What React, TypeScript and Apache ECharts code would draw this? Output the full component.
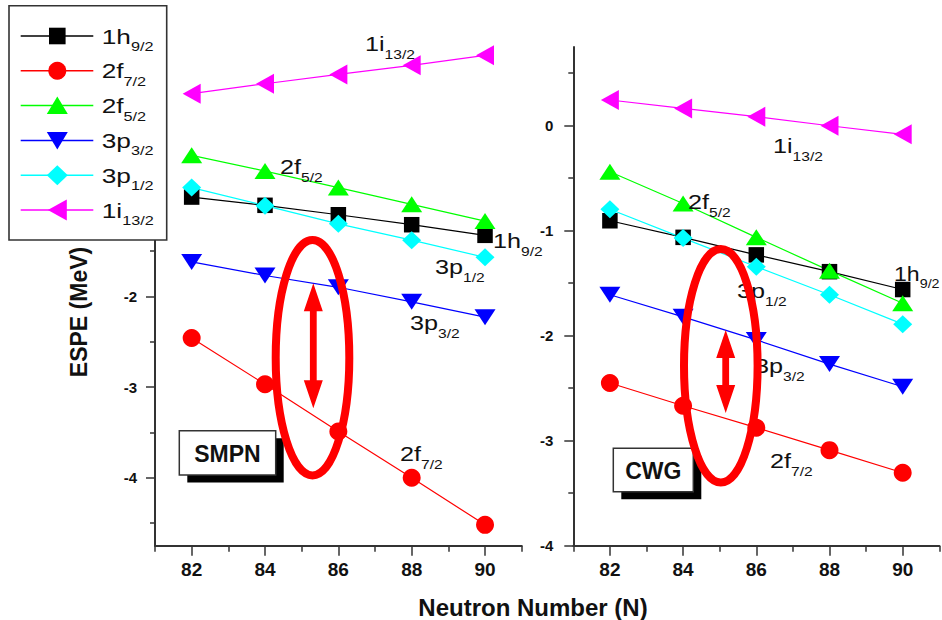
import React, { useEffect, useRef } from 'react';
import * as echarts from 'echarts';

// ---- data ----
const neutronN = [82, 84, 86, 88, 90];
const levelMain = ['1h', '2f', '2f', '3p', '3p', '1i'];
const levelSub = ['9/2', '7/2', '5/2', '3/2', '1/2', '13/2'];
const levelNames = levelMain.map((m, i) => m + levelSub[i]);

// SMPN (left panel)
const smpn1h9 = [-0.905, -0.996, -1.1, -1.21, -1.327];
const smpn2f7 = [-2.46, -2.97, -3.49, -4.0, -4.52];
const smpn2f5 = [-0.445, -0.618, -0.8, -0.985, -1.17];
const smpn3p3 = [-1.62, -1.77, -1.9, -2.06, -2.23];
const smpn3p1 = [-0.8, -1.0, -1.2, -1.38, -1.57];
const smpn1i13 = [0.235, 0.345, 0.448, 0.548, 0.658];

// CWG (right panel)
const cwg1h9 = [-0.905, -1.063, -1.23, -1.39, -1.56];
const cwg2f7 = [-2.45, -2.667, -2.876, -3.09, -3.305];
const cwg2f5 = [-0.438, -0.74, -1.063, -1.38, -1.69];
const cwg3p3 = [-1.61, -1.82, -2.04, -2.27, -2.486];
const cwg3p1 = [-0.796, -1.07, -1.343, -1.61, -1.89];
const cwg1i13 = [0.245, 0.165, 0.086, 0.0, -0.082];

const smpnValues = [smpn1h9, smpn2f7, smpn2f5, smpn3p3, smpn3p1, smpn1i13];
const cwgValues = [cwg1h9, cwg2f7, cwg2f5, cwg3p3, cwg3p1, cwg1i13];

const xRange = [81, 91];
const xMajorTicks = [82, 84, 86, 88, 90];
const xMinorTicks = [81, 83, 85, 87, 89, 91];
const leftYRange = [-4.75, 0.75];
const rightYRange = [-4, 0.75];
const yMajorTicks = [-4, -3, -2, -1, 0];
const leftYLabels = [-4, -3, -2]; // -1 and 0 sit under the legend box
const rightYLabels = [-4, -3, -2, -1, 0];
const leftYMinorTicks = [-4.5, -3.5, -2.5, -1.5, -0.5, 0.5];
const rightYMinorTicks = [-3.5, -2.5, -1.5, -0.5, 0.5];

const xAxisTitle = 'Neutron Number (N)';
const yAxisTitle = 'ESPE (MeV)';
const panelTags = ['SMPN', 'CWG'];

// ---- styles ----
const FONT = 'Liberation Sans, Arial, Helvetica, sans-serif';
const AXIS = '#333333';
const TEXT = '#111111';
const colors = ['#000000', '#ff0000', '#00ff00', '#0000ff', '#00ffff', '#ff00ff'];
const symbols = ['rect', 'circle', 'triangle', 'triangle', 'diamond', 'triangle'];
const symbolRotates = [0, 0, 0, 180, 0, 90];
const symbolSizes: any[] = [15.5, 18, [21, 16], [21, 16], [19, 18], [20, 18]];

function subText(x: number, y: number, main: string, sub: string, sx = 1.2, mSize = 21, sSize = 13) {
  return {
    type: 'text',
    x,
    y,
    scaleX: sx,
    z: 150,
    silent: true,
    style: {
      text: `{m|${main}}{s|${sub}}`,
      align: 'left',
      verticalAlign: 'middle',
      rich: {
        m: { fontSize: mSize, lineHeight: 34, fontFamily: FONT, fill: TEXT, color: TEXT },
        s: { fontSize: sSize, lineHeight: 10, verticalAlign: 'bottom', fontFamily: FONT, fill: TEXT, color: TEXT },
      },
    },
  };
}

function doubleArrow(cx: number, top: number, bottom: number) {
  const hl = 28, hw = 9.5, sw = 3.4;
  return {
    type: 'polygon',
    z: 120,
    silent: true,
    shape: {
      points: [
        [cx, top], [cx + hw, top + hl], [cx + sw, top + hl], [cx + sw, bottom - hl],
        [cx + hw, bottom - hl], [cx, bottom], [cx - hw, bottom - hl], [cx - sw, bottom - hl],
        [cx - sw, top + hl], [cx - hw, top + hl],
      ],
    },
    style: { fill: '#ff0000' },
  };
}

function tagBox(x: number, y: number, w: number, h: number, label: string) {
  return [
    { type: 'rect', z: 60, silent: true, shape: { x: x + 8, y: y + 7.5, width: w, height: h }, style: { fill: '#000' } },
    { type: 'rect', z: 61, silent: true, shape: { x, y, width: w, height: h }, style: { fill: '#fff', stroke: AXIS, lineWidth: 1.5 } },
    {
      type: 'text', z: 62, silent: true, x: x + w / 2, y: y + h / 2 + 1,
      style: { text: label, align: 'center', verticalAlign: 'middle', font: `bold 23px ${FONT}`, fill: TEXT },
    },
  ];
}

function legendSymbol(i: number, cx: number, cy: number) {
  const style = { fill: colors[i] };
  const base = { z: 202, silent: true, style };
  switch (i) {
    case 0:
      return { ...base, type: 'rect', shape: { x: cx - 8.3, y: cy - 8.3, width: 16.6, height: 16.6 } };
    case 1:
      return { ...base, type: 'circle', shape: { cx, cy, r: 9 } };
    case 2:
      return { ...base, type: 'polygon', shape: { points: [[cx, cy - 9], [cx + 10.5, cy + 8.5], [cx - 10.5, cy + 8.5]] } };
    case 3:
      return { ...base, type: 'polygon', shape: { points: [[cx, cy + 9], [cx + 10.5, cy - 8.5], [cx - 10.5, cy - 8.5]] } };
    case 4:
      return { ...base, type: 'polygon', shape: { points: [[cx, cy - 10], [cx + 10.5, cy], [cx, cy + 10], [cx - 10.5, cy]] } };
    default:
      return { ...base, type: 'polygon', shape: { points: [[cx - 9.5, cy], [cx + 9.5, cy - 10.5], [cx + 9.5, cy + 10.5]] } };
  }
}

function legendElements() {
  const els: any[] = [
    {
      type: 'rect', z: 200, silent: true,
      shape: { x: 9, y: 5.7, width: 157.7, height: 234.3 },
      style: { fill: '#ffffff', stroke: AXIS, lineWidth: 1.6 },
    },
  ];
  levelNames.forEach((_, i) => {
    const cy = 36 + 34.8 * i;
    els.push({
      type: 'line', z: 201, silent: true,
      shape: { x1: 20.7, y1: cy, x2: 93.3, y2: cy },
      style: { stroke: colors[i], lineWidth: 1.5 },
    });
    els.push(legendSymbol(i, 57.3, cy));
    const t: any = subText(101.7, cy, levelMain[i], levelSub[i], 1.25, 21, 13);
    t.z = 203;
    els.push(t);
  });
  return els;
}

function makeXAxis(g: number, minor: boolean) {
  return {
    type: 'value',
    gridIndex: g,
    position: 'bottom',
    min: xRange[0],
    max: xRange[1],
    axisLine: { show: !minor, onZero: false, lineStyle: { color: AXIS, width: 2 } },
    axisTick: {
      show: true,
      length: minor ? 6 : 10,
      lineStyle: { color: AXIS, width: 1.5 },
      customValues: minor ? xMinorTicks : xMajorTicks,
    },
    axisLabel: {
      show: !minor,
      customValues: xMajorTicks,
      margin: 14,
      fontSize: 19,
      fontWeight: 'bold',
      fontFamily: FONT,
      color: TEXT,
    },
    splitLine: { show: false },
  };
}

function makeYAxis(g: number, minor: boolean) {
  const range = g === 0 ? leftYRange : rightYRange;
  const minorTicks = g === 0 ? leftYMinorTicks : rightYMinorTicks;
  return {
    type: 'value',
    gridIndex: g,
    position: 'left',
    min: range[0],
    max: range[1],
    axisLine: { show: !minor, onZero: false, lineStyle: { color: AXIS, width: 2 } },
    axisTick: {
      show: true,
      length: minor ? 5 : 9,
      lineStyle: { color: AXIS, width: 1.5 },
      customValues: minor ? minorTicks : yMajorTicks,
    },
    axisLabel: {
      show: !minor,
      customValues: g === 0 ? leftYLabels : rightYLabels,
      margin: g === 0 ? 18 : 20,
      fontSize: 15,
      fontWeight: 'bold',
      fontFamily: FONT,
      color: TEXT,
    },
    splitLine: { show: false },
  };
}

export default function App() {
  const ref = useRef<HTMLDivElement>(null);
  useEffect(() => {
    if (!ref.current) return;
    const chart = echarts.init(ref.current, null, { renderer: 'svg' });

    const series: any[] = [];
    [smpnValues, cwgValues].forEach((vals, g) => {
      vals.forEach((arr, i) => {
        series.push({
          type: 'line',
          name: levelNames[i],
          xAxisIndex: g * 2,
          yAxisIndex: g * 2,
          data: neutronN.map((n, k) => [n, arr[k]]),
          symbol: symbols[i],
          symbolSize: symbolSizes[i],
          symbolRotate: symbolRotates[i],
          lineStyle: { color: colors[i], width: 1.2 },
          itemStyle: { color: colors[i] },
          silent: true,
        });
      });
    });

    const graphics: any[] = [
      // level labels - left panel
      subText(365, 44, '1i', '13/2'),
      subText(280, 166.5, '2f', '5/2'),
      subText(493, 240.5, '1h', '9/2'),
      subText(435, 267, '3p', '1/2'),
      subText(410, 323, '3p', '3/2'),
      subText(400, 453.5, '2f', '7/2'),
      // level labels - right panel
      subText(773, 145.5, '1i', '13/2'),
      subText(688, 201.5, '2f', '5/2'),
      subText(894, 273.5, '1h', '9/2', 1.1),
      subText(737, 291, '3p', '1/2'),
      subText(755, 366, '3p', '3/2'),
      subText(770, 460.5, '2f', '7/2'),
      ...tagBox(179.3, 430.7, 96.4, 44.3, panelTags[0]),
      ...tagBox(613.3, 448.3, 80, 43.4, panelTags[1]),
      {
        type: 'ellipse', z: 160, silent: true,
        shape: { cx: 312.5, cy: 357.7, rx: 36.8, ry: 117.7 },
        style: { fill: 'none', stroke: '#ff0000', lineWidth: 8 },
      },
      {
        type: 'ellipse', z: 160, silent: true,
        shape: { cx: 720.8, cy: 365.8, rx: 36.8, ry: 116.8 },
        style: { fill: 'none', stroke: '#ff0000', lineWidth: 8 },
      },
      doubleArrow(313.3, 283.3, 408.3),
      doubleArrow(725.7, 330, 413),
      {
        type: 'text', silent: true, x: 79, y: 312, rotation: Math.PI / 2, z: 150,
        style: { text: yAxisTitle, align: 'center', verticalAlign: 'middle', font: `bold 23px ${FONT}`, fill: TEXT },
      },
      {
        type: 'text', silent: true, x: 533, y: 607, z: 150,
        style: { text: xAxisTitle, align: 'center', verticalAlign: 'middle', font: `bold 24px ${FONT}`, fill: TEXT },
      },
      ...legendElements(),
    ];

    const option: any = {
      animation: false,
      backgroundColor: '#ffffff',
      grid: [
        { left: 155, top: 47, width: 366.7, height: 498.7 },
        { left: 573.3, top: 47, width: 366, height: 498.7 },
      ],
      xAxis: [makeXAxis(0, false), makeXAxis(0, true), makeXAxis(1, false), makeXAxis(1, true)],
      yAxis: [makeYAxis(0, false), makeYAxis(0, true), makeYAxis(1, false), makeYAxis(1, true)],
      series,
      graphic: { elements: graphics },
    };
    chart.setOption(option);
    return () => chart.dispose();
  }, []);
  return (
    <div
      ref={ref}
      style={{ position: 'absolute', left: 0, top: 0, width: 942, height: 620, background: '#fff' }}
    />
  );
}
